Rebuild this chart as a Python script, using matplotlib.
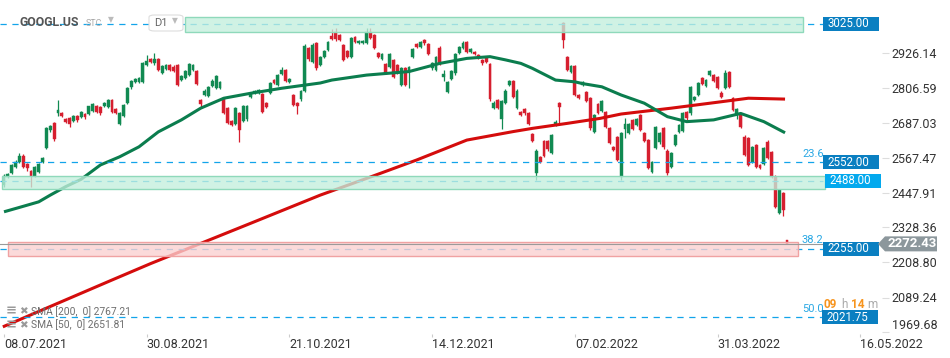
import matplotlib
matplotlib.use('Agg')
import matplotlib.pyplot as plt
from matplotlib.patches import Rectangle, Polygon, FancyBboxPatch
from matplotlib.transforms import blended_transform_factory

# daily candles GOOGL.US, 08.07.2021 -> 02.05.2022
opens = [2474, 2501, 2514, 2536, 2552, 2573, 2545, 2521, 2504, 2519,
         2553, 2599, 2661, 2684, 2721, 2718, 2700, 2701, 2693, 2709,
         2707, 2717, 2716, 2727, 2743, 2739, 2743, 2741, 2764, 2733,
         2682, 2710, 2755, 2807, 2826, 2827, 2826, 2883, 2903, 2889,
         2905, 2857, 2869, 2884, 2878, 2884, 2832, 2840, 2849, 2866,
         2864, 2764, 2781, 2778, 2812, 2804, 2805, 2770, 2736, 2691,
         2682, 2718, 2693, 2698, 2775, 2787, 2787, 2784, 2753, 2787,
         2832, 2815, 2853, 2866, 2826, 2781, 2753, 2766, 2794, 2940,
         2895, 2957, 2884, 2912, 2935, 2983, 2995, 2986, 2952, 2932,
         2912, 2980, 2958, 2958, 2958, 2995, 2986, 2923, 2903, 2886,
         2876, 2901, 2883, 2815, 2874, 2861, 2910, 2954, 2946, 2968,
         2954, 2872, 2866, 2943, 2843, 2792, 2836, 2855, 2926, 2941,
         2963, 2929, 2929, 2918, 2901, 2908, 2886, 2736, 2764, 2698,
         2755, 2815, 2829, 2736, 2724, 2732, 2718, 2648, 2515, 2568,
         2624, 2624, 2582, 2679, 2753, 3026, 2910, 2861, 2880, 2781,
         2815, 2792, 2770, 2654, 2750, 2727, 2724, 2667, 2604, 2636,
         2502, 2664, 2652, 2696, 2679, 2713, 2651, 2627, 2519, 2599,
         2619, 2667, 2591, 2534, 2610, 2656, 2659, 2724, 2718, 2764,
         2781, 2838, 2812, 2849, 2849, 2841, 2789, 2804, 2858, 2770,
         2713, 2713, 2639, 2634, 2553, 2610, 2542, 2545, 2619, 2587,
         2502, 2377, 2445, 2284]
highs = [2512, 2515, 2546, 2560, 2584, 2578, 2548, 2524, 2538, 2548,
         2570, 2670, 2680, 2690, 2764, 2722, 2703, 2705, 2712, 2712,
         2727, 2720, 2745, 2753, 2747, 2742, 2757, 2768, 2768, 2737,
         2723, 2750, 2808, 2832, 2838, 2843, 2893, 2918, 2906, 2925,
         2908, 2882, 2887, 2888, 2882, 2888, 2850, 2866, 2890, 2888,
         2868, 2768, 2800, 2812, 2834, 2850, 2828, 2774, 2740, 2694,
         2740, 2722, 2747, 2747, 2790, 2797, 2801, 2788, 2757, 2827,
         2836, 2853, 2876, 2870, 2839, 2785, 2757, 2798, 2955, 2945,
         2958, 2962, 2914, 2935, 2967, 3005, 3009, 2990, 2956, 2936,
         2979, 2984, 2970, 2970, 3010, 3010, 2990, 2927, 2925, 2890,
         2925, 2905, 2887, 2876, 2878, 2879, 2941, 2958, 2965, 2972,
         2958, 2893, 2914, 2947, 2865, 2828, 2867, 2925, 2948, 2964,
         2967, 2942, 2932, 2922, 2905, 2912, 2890, 2759, 2768, 2764,
         2800, 2833, 2833, 2800, 2728, 2736, 2722, 2652, 2595, 2572,
         2628, 2628, 2648, 2694, 2757, 3030, 2914, 2884, 2884, 2785,
         2830, 2796, 2774, 2717, 2754, 2765, 2728, 2671, 2608, 2640,
         2655, 2701, 2685, 2700, 2702, 2717, 2655, 2631, 2555, 2675,
         2655, 2671, 2595, 2586, 2648, 2682, 2722, 2728, 2813, 2779,
         2827, 2842, 2836, 2868, 2853, 2845, 2793, 2865, 2862, 2774,
         2736, 2717, 2643, 2638, 2607, 2614, 2546, 2603, 2627, 2591,
         2506, 2461, 2449, 2287]
lows = [2468, 2498, 2510, 2532, 2548, 2530, 2522, 2468, 2500, 2515,
        2550, 2595, 2655, 2625, 2708, 2706, 2686, 2672, 2689, 2690,
        2702, 2700, 2713, 2722, 2720, 2712, 2740, 2735, 2720, 2716,
        2678, 2706, 2750, 2803, 2822, 2823, 2822, 2879, 2890, 2885,
        2862, 2853, 2865, 2862, 2858, 2812, 2828, 2835, 2845, 2862,
        2815, 2740, 2777, 2774, 2808, 2800, 2800, 2716, 2682, 2675,
        2678, 2622, 2688, 2693, 2771, 2785, 2784, 2720, 2735, 2783,
        2818, 2811, 2850, 2826, 2822, 2743, 2715, 2762, 2790, 2898,
        2890, 2868, 2880, 2908, 2930, 2968, 2966, 2965, 2897, 2908,
        2908, 2959, 2954, 2954, 2954, 2971, 2937, 2906, 2899, 2853,
        2872, 2840, 2853, 2811, 2811, 2804, 2906, 2940, 2942, 2953,
        2917, 2868, 2862, 2883, 2830, 2788, 2832, 2851, 2922, 2937,
        2925, 2925, 2918, 2904, 2885, 2891, 2762, 2732, 2732, 2664,
        2751, 2811, 2771, 2732, 2709, 2714, 2678, 2621, 2490, 2549,
        2569, 2591, 2578, 2675, 2686, 2940, 2862, 2857, 2777, 2766,
        2811, 2757, 2663, 2650, 2717, 2723, 2667, 2612, 2589, 2555,
        2490, 2633, 2648, 2660, 2675, 2657, 2621, 2528, 2515, 2595,
        2615, 2598, 2509, 2530, 2606, 2652, 2655, 2697, 2714, 2760,
        2777, 2815, 2808, 2845, 2826, 2800, 2771, 2800, 2805, 2726,
        2700, 2667, 2572, 2538, 2549, 2532, 2527, 2541, 2561, 2498,
        2396, 2373, 2366, 2271]
closes = [2505, 2511, 2542, 2553, 2573, 2535, 2532, 2504, 2535, 2545,
          2565, 2667, 2675, 2631, 2730, 2710, 2690, 2682, 2709, 2696,
          2723, 2705, 2742, 2750, 2724, 2720, 2753, 2764, 2724, 2720,
          2720, 2747, 2804, 2829, 2835, 2840, 2889, 2897, 2894, 2905,
          2866, 2879, 2884, 2866, 2864, 2815, 2845, 2862, 2886, 2884,
          2818, 2750, 2796, 2809, 2830, 2846, 2825, 2721, 2687, 2679,
          2736, 2661, 2743, 2743, 2787, 2794, 2798, 2724, 2739, 2823,
          2821, 2849, 2866, 2829, 2835, 2747, 2743, 2794, 2948, 2903,
          2952, 2872, 2910, 2931, 2963, 2972, 2971, 2969, 2901, 2912,
          2975, 2963, 2966, 2966, 2997, 2975, 2941, 2910, 2921, 2857,
          2921, 2844, 2857, 2872, 2815, 2875, 2937, 2944, 2961, 2957,
          2921, 2889, 2910, 2887, 2853, 2824, 2863, 2921, 2944, 2960,
          2929, 2938, 2921, 2908, 2889, 2895, 2766, 2755, 2736, 2760,
          2796, 2829, 2775, 2796, 2713, 2718, 2682, 2625, 2591, 2553,
          2573, 2595, 2644, 2690, 2741, 2969, 2866, 2880, 2781, 2770,
          2826, 2761, 2667, 2713, 2721, 2761, 2671, 2616, 2593, 2559,
          2651, 2681, 2681, 2664, 2698, 2661, 2625, 2532, 2551, 2671,
          2651, 2602, 2513, 2582, 2644, 2678, 2718, 2701, 2809, 2775,
          2823, 2819, 2832, 2862, 2830, 2804, 2775, 2857, 2809, 2730,
          2732, 2671, 2576, 2542, 2603, 2536, 2531, 2599, 2565, 2502,
          2400, 2457, 2388, 2272.43]

# moving averages (bar index, value)
sma50_idx = [0, 4, 9, 12, 16, 20, 25, 30, 35, 40, 46, 51, 57, 64, 72, 82, 85,
             94, 105, 113, 120, 126, 130, 134, 137, 143, 148, 150, 155, 160,
             166, 172, 177, 184, 191, 197, 202.5]
sma50_val = [2382, 2397, 2416, 2439, 2468, 2493, 2542, 2570, 2604, 2655, 2696,
             2736, 2770, 2787, 2804, 2822, 2832, 2849, 2861, 2889, 2906, 2912,
             2901, 2889, 2872, 2832, 2826, 2820, 2809, 2781, 2753, 2707, 2690,
             2696, 2718, 2690, 2652]
sma200_idx = [-0.3, 28, 38, 51, 64, 82, 94, 107, 120, 132, 137, 146, 154.5,
              160, 173, 186, 193, 202.5]
sma200_val = [1989, 2149, 2205, 2274, 2343, 2439, 2496, 2559, 2627, 2656, 2667,
              2684, 2701, 2716, 2736, 2758, 2770, 2767]
sma200_last = 2767.21
sma50_last = 2651.81

price_ticks = [2926.14, 2806.59, 2687.03, 2567.47, 2447.91, 2328.36,
               2208.80, 2089.24, 1969.68]
date_labels = ['08.07.2021', '30.08.2021', '21.10.2021', '14.12.2021',
               '07.02.2022', '31.03.2022', '16.05.2022']
bars_per_label = 37

level_prices = [3025.00, 2552.00, 2488.00, 2255.00, 2021.75]
fib_prices = [2552.00, 2255.00, 2021.75]
fib_names = ['23.6', '38.2', '50.0']
zone_green_top = (2997.2, 3046.4)
zone_green_mid = (2458.8, 2504.3)
zone_red = (2232.0, 2277.8)
last_price = 2272.43

# ---------------------------------------------------------------- layout
W, H = 950, 358
AX_W, AX_H = 882, 334
PX_BAR = 3.857
Y_TOP = 3105.5
PPX = 3.416  # price per pixel

plt.rcParams['font.family'] = ['Roboto', 'DejaVu Sans']
fig = plt.figure(figsize=(W / 100, H / 100), dpi=100, facecolor='white')
ax = fig.add_axes([0, (H - AX_H) / H, AX_W / W, AX_H / H])
ax.set_facecolor('white')
ax.set_xlim(-4 / PX_BAR, (AX_W - 4) / PX_BAR)
ax.set_ylim(Y_TOP - AX_H * PPX, Y_TOP)
for s in ax.spines.values():
    s.set_visible(False)

bl = blended_transform_factory(ax.transAxes, ax.transData)


def fx(px):
    return px / AX_W


# candles
GREEN = '#118a52'
RED = '#d61f2f'
for i, (o, h, l, c) in enumerate(zip(opens, highs, lows, closes)):
    col = GREEN if c >= o else RED
    ax.vlines(i, l, h, color=col, lw=0.9, zorder=2)
    ax.bar(i, max(abs(c - o), 2.5), bottom=min(o, c), width=0.72,
           color=col, edgecolor=col, lw=0.3, zorder=2)

ax.plot(sma200_idx, sma200_val, color='#d40c0c', lw=2.2, zorder=3,
        solid_capstyle='butt', solid_joinstyle='round')
ax.plot(sma50_idx, sma50_val, color='#0b7d4e', lw=2.2, zorder=3,
        solid_capstyle='butt', solid_joinstyle='round')

# dashed levels
for lv in level_prices:
    ax.plot([0, fx(823)], [lv, lv], transform=bl, color='#12a4ea', lw=0.9,
            ls=(0, (5, 4.5)), zorder=3.5, clip_on=False)

# zones (drawn over candles, semi transparent)
zone_specs = [(zone_green_top, 185, 803, '#c3efdd', '#8fd9bb'),
              (zone_green_mid, 2, 825, '#c3efdd', '#8fd9bb'),
              (zone_red, 8, 798, '#fbd0d0', '#f0a2a2')]
for (lo, hi), x0, x1, fc, ec in zone_specs:
    ax.add_patch(Rectangle((fx(x0), lo), fx(x1) - fx(x0), hi - lo,
                           transform=bl, facecolor=fc, edgecolor='none',
                           alpha=0.78, zorder=4, clip_on=False))
    ax.add_patch(Rectangle((fx(x0), lo), fx(x1) - fx(x0), hi - lo,
                           transform=bl, facecolor='none', edgecolor=ec,
                           lw=1.0, zorder=4.1, clip_on=False))

# current price line
ax.plot([0, fx(879)], [last_price, last_price], transform=bl,
        color='#9a9a9a', lw=0.8, zorder=4.5, clip_on=False)

# fib texts
for lv, name in zip(fib_prices, fib_names):
    ax.text(fx(802), lv + 3.5 * PPX, name, transform=bl, color='#2aa8e4',
            fontsize=8, ha='left', va='bottom', zorder=6)

# countdown, just above the 50.0 label box
cd_y = 1 - 305 / H
fig.text(824 / W, cd_y, '09', color='#f7941d', fontsize=8.5,
         fontweight='bold', va='center', ha='left', zorder=1)
fig.text(841 / W, cd_y, 'h', color='#aaaaaa', fontsize=8.5,
         va='center', ha='left', zorder=1)
fig.text(851 / W, cd_y, '14', color='#f7941d', fontsize=8.5,
         fontweight='bold', va='center', ha='left', zorder=1)
fig.text(867 / W, cd_y, 'm', color='#aaaaaa', fontsize=8.5,
         va='center', ha='left', zorder=1)

# level label boxes
box_colors = ['#0a7fc1', '#0a7fc1', '#03a9ee', '#0a7fc1', '#0a7fc1']
box_x = [823, 823, 825, 823, 822]
for lv, colr, bx in zip(level_prices, box_colors, box_x):
    ax.add_patch(Rectangle((fx(bx), lv - 7 * PPX), fx(56), 14 * PPX,
                           transform=bl, facecolor=colr, edgecolor='none',
                           zorder=7, clip_on=False))
    ax.text(fx(bx + 4), lv, f'{lv:.2f}', transform=bl, color='white',
            fontsize=8.3, ha='left', va='center', zorder=8)

# last price tag
tag_y = last_price
tag = Polygon([(fx(878), tag_y), (fx(885), tag_y + 7.5 * PPX),
               (fx(937), tag_y + 7.5 * PPX), (fx(937), tag_y - 7.5 * PPX),
               (fx(885), tag_y - 7.5 * PPX)], closed=True, transform=bl,
              facecolor='#8c979c', edgecolor='none', zorder=7, clip_on=False)
ax.add_patch(tag)
ax.text(fx(888), tag_y, f'{last_price:.2f}', transform=bl, color='white',
        fontsize=9.5, fontweight='bold', ha='left', va='center', zorder=8)

# axes ticks
ax.yaxis.tick_right()
ax.set_yticks(price_ticks, [f'{t:.2f}' for t in price_ticks])
ax.tick_params(axis='y', length=5, color='#dddddd', labelcolor='#333333',
               labelsize=9, pad=2)
ax.get_yticklabels()[-1].set_va('bottom')
ax.set_xticks([k * bars_per_label for k in range(len(date_labels))],
              date_labels)
ax.tick_params(axis='x', length=2.5, color='#cccccc', labelcolor='#333333',
               labelsize=9, pad=0.5)
for lbl in ax.get_xticklabels():
    lbl.set_ha('left')

# header
fig.text(20 / W, 1 - 22.5 / H, 'GOOGL.US', color='#555555', fontsize=8.8,
         fontweight='bold', va='center', ha='left')
fig.text(86 / W, 1 - 24 / H, 'STC', color='#aaaaaa', fontsize=6.5,
         va='center', ha='left')
fig.text(108 / W, 1 - 20 / H, '\u25BC', color='#bbbbbb', fontsize=5.5,
         va='center', ha='left', family='DejaVu Sans')
fig.patches.append(FancyBboxPatch((149 / W, 1 - 31 / H), 34 / W, 16 / H,
                                  boxstyle='round,pad=0,rounding_size=0.006',
                                  transform=fig.transFigure, facecolor='white',
                                  edgecolor='#dddddd', lw=0.8, zorder=0.5))
fig.text(154 / W, 1 - 22.5 / H, 'D1', color='#666666', fontsize=8,
         va='center', ha='left')
fig.text(172 / W, 1 - 21 / H, '\u25BC', color='#bbbbbb', fontsize=5.5,
         va='center', ha='left', family='DejaVu Sans')

# indicator legend
for yy, txt in [(311.5, f'SMA [200,  0] {sma200_last:.2f}'),
                (325, f'SMA [50,  0] {sma50_last:.2f}')]:
    fig.text(6 / W, 1 - yy / H, '\u2261', color='#9a9a9a', fontsize=9.5,
             fontweight='bold', va='center', ha='left', family='DejaVu Sans',
             zorder=9)
    fig.text(19 / W, 1 - yy / H, '\u2716', color='#9a9a9a', fontsize=7.5,
             va='center', ha='left', family='DejaVu Sans', zorder=9)
    fig.text(31 / W, 1 - yy / H, txt, color='#6e6e6e', fontsize=7.4,
             va='center', ha='left', zorder=9)

fig.savefig('out.png', dpi=100, facecolor='white')
